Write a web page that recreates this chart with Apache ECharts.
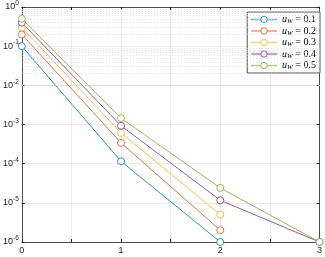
<!DOCTYPE html>
<html><head><meta charset="utf-8">
<script src="https://cdn.jsdelivr.net/npm/echarts@6/dist/echarts.min.js"></script>
<style>html,body{margin:0;padding:0;background:#fff}#c{width:325px;height:257px}</style>
</head><body><div id="c"></div>
<script>
const xCats = [0, 1, 2, 3];
const seriesNames = ['0.1', '0.2', '0.3', '0.4', '0.5'];
const s1 = [0.1, 1.15e-4, 1e-6, null];
const s2 = [0.2, 3.4e-4, 2e-6, null];
const s3 = [0.3, 6.1e-4, 5e-6, null];
const s4 = [0.4, 9.3e-4, 1.16e-5, 1e-6];
const s5 = [0.5, 1.45e-3, 2.4e-5, 1e-6];
const colors = ['#0072BD', '#D95319', '#EDB120', '#7E2F8E', '#77AC30'];

const allData = [s1, s2, s3, s4, s5];
const minorVals = [];
for (let e = -6; e < 0; e++) for (let d = 2; d <= 9; d++) minorVals.push(d * Math.pow(10, e));

const series = allData.map((d, i) => ({
  name: seriesNames[i], type: 'line', xAxisIndex: 0, yAxisIndex: 0,
  data: d.map((v, j) => v == null ? null : [xCats[j], v]),
  symbol: 'circle', symbolSize: 7, showSymbol: true,
  itemStyle: { color: '#fff', borderColor: colors[i], borderWidth: 0.8 },
  lineStyle: { color: colors[i], width: 0.8 },
  emphasis: { disabled: true }, animation: false, z: 5
}));
series.push({
  type: 'line', data: [], silent: true, animation: false, z: 1,
  markLine: {
    silent: true, symbol: 'none', animation: false, label: { show: false },
    lineStyle: { color: '#d6d6d6', type: [1, 2], width: 0.8 },
    data: minorVals.map(v => ({ yAxis: v }))
  }
});

const chart = echarts.init(document.getElementById('c'), null, { renderer: 'canvas' });
chart.setOption({
  animation: false,
  grid: { left: 21, right: 3, top: 5, bottom: 15, containLabel: false },
  xAxis: [{
    type: 'value', min: 0, max: 3, interval: 0.5,
    axisLine: { show: true, onZero: false, lineStyle: { color: '#262626', width: 0.8 } },
    axisTick: { inside: true, length: 3, lineStyle: { color: '#262626' } },
    axisLabel: { color: '#262626', fontSize: 9, fontFamily: 'Liberation Sans', margin: 4,
      formatter: v => (Math.abs(v - Math.round(v)) < 1e-9 ? String(Math.round(v)) : '') },
    splitLine: { show: true, lineStyle: { color: '#e6e6e6', width: 0.8 } }
  }, {
    type: 'value', min: 0, max: 3, interval: 0.5, position: 'top',
    axisLine: { show: true, onZero: false, lineStyle: { color: '#262626', width: 0.8 } },
    axisTick: { inside: true, length: 3, lineStyle: { color: '#262626' } },
    axisLabel: { show: false }, splitLine: { show: false }
  }],
  yAxis: [{
    type: 'log', logBase: 10, min: 1e-6, max: 1,
    axisLine: { show: true, onZero: false, lineStyle: { color: '#262626', width: 0.8 } },
    axisTick: { inside: true, length: 3, lineStyle: { color: '#262626' } },
    axisLabel: {
      color: '#262626', fontFamily: 'Liberation Sans', margin: 3,
      formatter: v => { const e = Math.round(Math.log10(v)); return '{b|10}{s|' + e + '}'; },
      rich: { b: { fontSize: 9, color: '#262626', fontFamily: 'Liberation Sans' },
              s: { fontSize: 6.5, color: '#262626', fontFamily: 'Liberation Sans', padding: [0, 0, 7, 0] } }
    },
    splitLine: { show: true, lineStyle: { color: '#e6e6e6', width: 0.8 } }
  }, {
    type: 'log', logBase: 10, min: 1e-6, max: 1, position: 'right',
    axisLine: { show: true, onZero: false, lineStyle: { color: '#262626', width: 0.8 } },
    axisTick: { inside: true, length: 3, lineStyle: { color: '#262626' } },
    axisLabel: { show: false }, splitLine: { show: false }
  }],
  legend: {
    right: 5, top: 12, orient: 'vertical', itemGap: 0.5, itemWidth: 26, itemHeight: 8,
    backgroundColor: '#fff', borderColor: '#262626', borderWidth: 0.8, padding: [2, 4, 2, 3],
    data: seriesNames,
    itemStyle: { borderWidth: 0.8 },
    lineStyle: { width: 1.6, opacity: 0.55 },
    formatter: n => '{i|u}{w|W}{n| = ' + n + '}',
    textStyle: {
      lineHeight: 10,
      rich: {
        i: { fontFamily: 'Liberation Serif', fontStyle: 'italic', fontSize: 10, color: '#000', lineHeight: 10 },
        w: { fontFamily: 'Liberation Serif', fontStyle: 'italic', fontSize: 7, color: '#000', padding: [4, 0, 0, 0], lineHeight: 10 },
        n: { fontFamily: 'Liberation Serif', fontSize: 10, color: '#000', lineHeight: 10 }
      }
    }
  },
  series: series
});
</script></body></html>
